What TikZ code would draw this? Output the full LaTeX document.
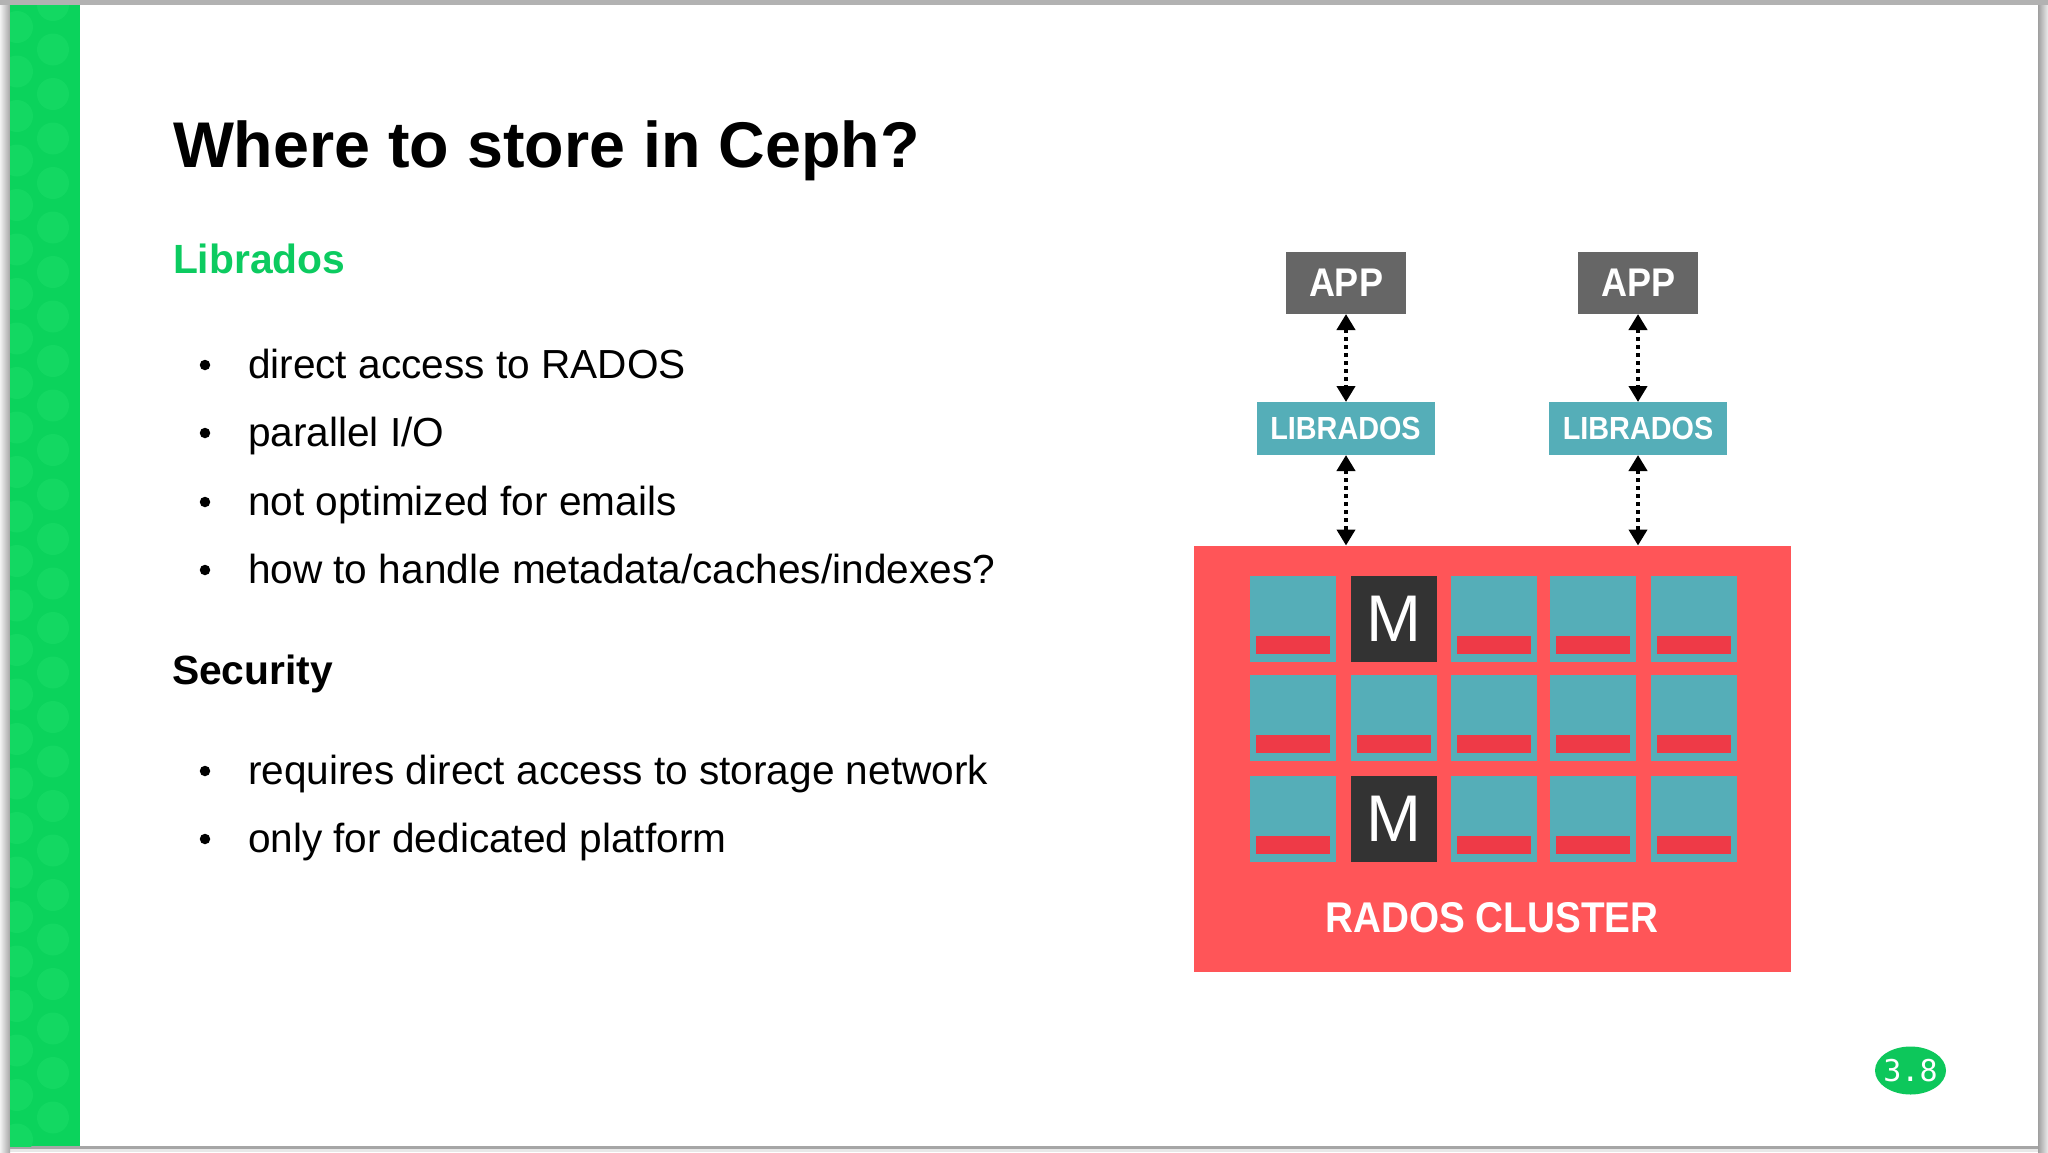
\documentclass[tikz,border=0pt]{standalone}
\usepackage{fontspec}
\setmainfont{Liberation Sans}
\newfontfamily\labelfont[FakeStretch=0.9]{Liberation Sans}
\newfontfamily\monfont{Liberation Sans}
\newfontfamily\pagefont{DejaVu Sans Mono}
\usetikzlibrary{arrows.meta,shapes.geometric}
\definecolor{slidegreen}{HTML}{0BD35C}
\definecolor{dotgreen}{HTML}{13D862}
\definecolor{badgegreen}{HTML}{0DC75B}
\definecolor{clusterred}{HTML}{FF5558}
\definecolor{barred}{HTML}{EE3A47}
\definecolor{teal}{HTML}{55AEB8}
\definecolor{appgray}{HTML}{666666}
\definecolor{mondark}{HTML}{333333}
\definecolor{libgreen}{HTML}{0CCB60}
\tikzset{
  x=1pt,y=-1pt,
  txt/.style={anchor=base west,inner sep=0pt,outer sep=0pt,text=black},
  title/.style={txt,font=\fontsize{64.6}{70}\selectfont\bfseries},
  head/.style={txt,font=\fontsize{40.8}{46}\selectfont\bfseries},
  item/.style={txt,font=\fontsize{40.6}{46}\selectfont},
  bul/.style={circle,fill=black,inner sep=0pt,minimum size=10.5pt},
  box/.style={inner sep=0pt,outer sep=0pt,text=white,align=center},
  app/.style={box,fill=appgray,minimum width=120pt,minimum height=62pt,font=\labelfont\fontsize{40}{42}\selectfont\bfseries},
  lib/.style={box,fill=teal,minimum width=178pt,minimum height=53pt,font=\labelfont\fontsize{32}{36}\selectfont\bfseries},
  osd/.style={box,fill=teal,minimum width=86pt,minimum height=86pt,anchor=north west},
  mon/.style={box,fill=mondark,minimum width=86pt,minimum height=86pt,anchor=north west,font=\monfont\fontsize{66}{70}\selectfont},
  bar/.style={box,fill=barred,minimum width=74pt,minimum height=18pt,anchor=north west},
  link/.style={draw=black,line width=4.4pt,dash pattern=on 4.4pt off 3.6pt,{Triangle[length=16pt,width=18pt]}-{Triangle[length=16pt,width=18pt]}},
  dot/.style={fill=dotgreen,draw=none},
}
\begin{document}
\begin{tikzpicture}
\useasboundingbox (0,0) rectangle (2048,1152);
% window surroundings
\fill[gray!18] (0,0) rectangle (2048,1152);
\shade[left color=gray!10,right color=gray!70] (0,5) rectangle (10,1152);
\shade[left color=gray!75,right color=gray!15] (2038,5) rectangle (2048,1152);
\fill[gray!60] (0,0) rectangle (2048,5);
% slide
\fill[white] (10,5) rectangle (2038,1146);
\fill[gray!70] (10,1146) rectangle (2038,1149);
\fill[slidegreen] (10,5) rectangle (80,1146);
\begin{scope}
\clip (10,5) rectangle (80,1146);
\foreach \k in {0,...,25} {
  \fill[dot] (53,{5+44.5*\k}) circle (16);
  \fill[dot] (17,{27+44.5*\k}) circle (16);
}
\end{scope}
% text
\node[title] (t) at (173,167) {Where to store in Ceph?};
\node[head,text=libgreen] (h1) at (173,273) {Librados};
\node[bul] (b1) at (205,365) {};
\node[item] (i1) at (248,378) {direct access to RADOS};
\node[bul] (b2) at (205,433) {};
\node[item] (i2) at (248,446) {parallel I/O};
\node[bul] (b3) at (205,502) {};
\node[item] (i3) at (248,515) {not optimized for emails};
\node[bul] (b4) at (205,570) {};
\node[item] (i4) at (248,583) {how to handle metadata/caches/indexes?};
\node[head] (h2) at (172,684) {Security};
\node[bul] (b5) at (205,771) {};
\node[item] (i5) at (248,784) {requires direct access to storage network};
\node[bul] (b6) at (205,839) {};
\node[item] (i6) at (248,852) {only for dedicated platform};
% diagram
\node[app] (app1) at (1346,283) {APP};
\node[app] (app2) at (1638,283) {APP};
\node[lib] (lib1) at (1345.5,428.5) {LIBRADOS};
\node[lib] (lib2) at (1638,428.5) {LIBRADOS};
\node[box,fill=clusterred,minimum width=597pt,minimum height=426pt] (cluster) at (1492.5,758.5) {};
\foreach \c/\xx in {1/1250,2/1350.5,3/1451,4/1550,5/1651} {
  \foreach \r/\yy in {1/576,2/675,3/776} {
    \node[osd] (osd-\r-\c) at (\xx,\yy) {};
    \node[bar] (bar-\r-\c) at ({\xx+6},{\yy+60}) {};
  }
}
\node[mon] (mon1) at (1350.5,576) {M};
\node[mon] (mon2) at (1350.5,776) {M};
\node[box,font=\labelfont\fontsize{43}{46}\selectfont\bfseries] (cl) at (1492,918) {RADOS CLUSTER};
\draw[link] (app1.south) -- (app1 |- lib1.north);
\draw[link] (app2.south) -- (app2 |- lib2.north);
\draw[link] (app1 |- lib1.south) -- (app1 |- cluster.north);
\draw[link] (app2 |- lib2.south) -- (app2 |- cluster.north);
% page badge
\node[ellipse,fill=badgegreen,minimum width=71pt,minimum height=48pt,inner sep=0pt,text=white,font=\pagefont\fontsize{30}{32}\selectfont] (page) at (1910.5,1070.5) {\makebox[0pt][c]{3.8}};
\end{tikzpicture}
\end{document}
